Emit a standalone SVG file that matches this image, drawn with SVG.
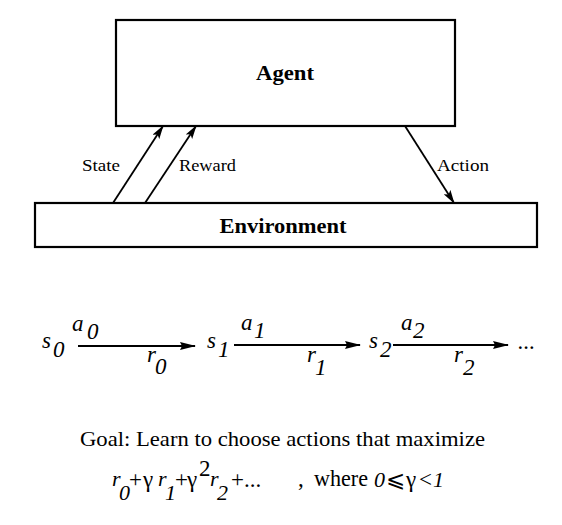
<svg xmlns="http://www.w3.org/2000/svg" width="562" height="525" viewBox="0 0 562 525">
<defs>
<marker id="ah" viewBox="0 0 14 8" refX="13" refY="4" markerWidth="14" markerHeight="8" markerUnits="userSpaceOnUse" orient="auto">
<path d="M0,0 L14,4 L0,8 L3,4 Z" fill="#000"/>
</marker>
<marker id="ah2" viewBox="0 0 16 8" refX="15" refY="4" markerWidth="16" markerHeight="8" markerUnits="userSpaceOnUse" orient="auto">
<path d="M0,0 L16,4 L0,8 L2,4 Z" fill="#000"/>
</marker>
</defs>
<style>
.box{fill:#fff;stroke:#000;stroke-width:2.2}
.title{font-family:"Liberation Serif","Times New Roman",serif;font-weight:bold;font-size:20px;fill:#000}
.lbl{font-family:"Liberation Serif","Times New Roman",serif;font-size:17px;fill:#000}
.edge{stroke:#000;stroke-width:1.8;fill:none;marker-end:url(#ah)}
.seq{stroke:#000;stroke-width:2;fill:none;marker-end:url(#ah2)}
.m{font-family:"Liberation Serif","Times New Roman",serif;font-style:italic;font-size:23px;fill:#000}
.t{font-family:"Liberation Serif","Times New Roman",serif;font-size:22px;fill:#000}
.f{font-family:"Liberation Serif","Times New Roman",serif;font-size:23px;fill:#000}
.fi{font-family:"Liberation Serif","Times New Roman",serif;font-style:italic;font-size:22px;fill:#000}
</style>
<rect width="562" height="525" fill="#fff"/>
<g id="agent">
<rect class="box" x="116" y="20" width="339" height="106"/>
<text class="title" x="285" y="80" text-anchor="middle" textLength="58" lengthAdjust="spacingAndGlyphs">Agent</text>
</g>
<g id="environment">
<rect class="box" x="35" y="203" width="502" height="44"/>
<text class="title" x="283" y="233" text-anchor="middle" textLength="127" lengthAdjust="spacingAndGlyphs">Environment</text>
</g>
<g id="connectors">
<line class="edge" x1="113" y1="203" x2="163" y2="126"/>
<line class="edge" x1="145" y1="203" x2="196" y2="126"/>
<line class="edge" x1="405" y1="126" x2="454" y2="203"/>
<text class="lbl" x="82" y="171" textLength="38" lengthAdjust="spacingAndGlyphs">State</text>
<text class="lbl" x="179" y="171" textLength="57" lengthAdjust="spacingAndGlyphs">Reward</text>
<text class="lbl" x="437" y="171" textLength="52" lengthAdjust="spacingAndGlyphs">Action</text>
</g>
<g id="sequence">
<g id="s0"><text class="m" x="42" y="348">s</text><text class="m" x="53" y="357">0</text></g>
<g id="s1"><text class="m" x="207" y="348">s</text><text class="m" x="218" y="357">1</text></g>
<g id="s2"><text class="m" x="369" y="348">s</text><text class="m" x="380" y="357">2</text></g>
<text class="m" x="518" y="349">...</text>
<g id="seq-edges">
<line class="seq" x1="78" y1="346" x2="195" y2="346"/>
<line class="seq" x1="234" y1="345" x2="360" y2="345"/>
<line class="seq" x1="393" y1="345" x2="508" y2="345"/>
<text class="m" x="72" y="331">a</text><text class="m" x="87" y="339">0</text>
<text class="m" x="147" y="362">r</text><text class="m" x="155" y="374">0</text>
<text class="m" x="241" y="330">a</text><text class="m" x="254" y="338">1</text>
<text class="m" x="307" y="362">r</text><text class="m" x="315" y="375">1</text>
<text class="m" x="401" y="330">a</text><text class="m" x="413" y="338">2</text>
<text class="m" x="454" y="362">r</text><text class="m" x="463" y="375">2</text>
</g>
</g>
<g id="goal">
<text class="t" x="80" y="446" textLength="405" lengthAdjust="spacingAndGlyphs">Goal: Learn to choose actions that maximize</text>
<text class="fi" x="112" y="486">r</text><text class="fi" x="119" y="500">0</text>
<text class="f" x="129" y="487">+</text>
<text class="f" x="143" y="487">γ</text>
<text class="fi" x="158" y="486">r</text><text class="fi" x="165" y="500">1</text>
<text class="f" x="175" y="487">+</text>
<text class="f" x="187" y="487">γ</text>
<text class="f" x="199" y="476">2</text>
<text class="fi" x="210" y="486">r</text><text class="fi" x="217" y="500">2</text>
<text class="f" x="231" y="487">+</text>
<text class="f" x="244" y="487">...</text>
<text class="f" x="298" y="486">,</text>
<text class="f" x="314" y="486" textLength="54" lengthAdjust="spacingAndGlyphs">where</text>
<text class="fi" x="374" y="487">0</text>
<text class="f" x="386" y="487" font-family="'DejaVu Serif','DejaVu Sans',serif" font-size="14">⩽</text>
<text class="f" x="406" y="487">γ</text>
<text class="f" x="419" y="487">&lt;</text>
<text class="fi" x="433" y="487">1</text>
</g>
</svg>
